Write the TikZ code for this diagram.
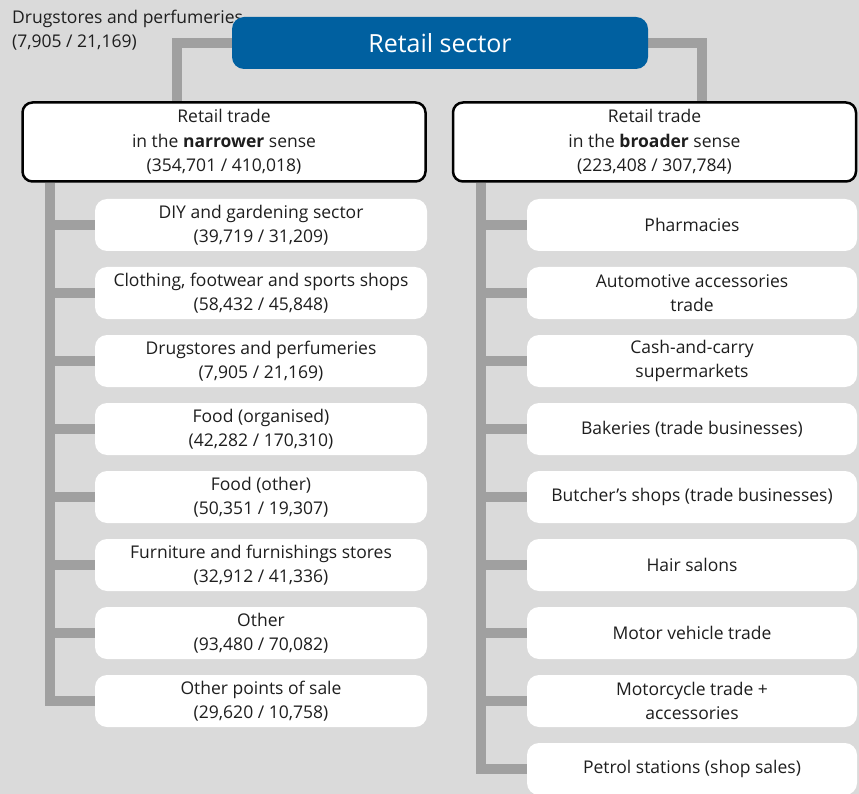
\documentclass[tikz,border=0pt]{standalone}
\usepackage{fontspec}
\setmainfont{Open Sans}
\usetikzlibrary{backgrounds}
\definecolor{backgray}{RGB}{218,218,218}
\definecolor{linkgray}{RGB}{160,160,160}
\definecolor{sectorblue}{RGB}{0,96,160}
\definecolor{inkgray}{RGB}{30,30,30}
\tikzset{
 link/.style={draw=linkgray, line width=10.5pt},
}
\begin{document}
\begin{tikzpicture}[x=1pt,y=-1pt, font=\fontsize{17.5}{24.5}\selectfont, text=inkgray]
 \useasboundingbox (0,0) rectangle (859,794);
 \node (label) [anchor=west, align=left, inner sep=0pt] at (12,30) {Drugstores and perfumeries\\(7,905 / 21,169)};
 \node (sector) [fill=sectorblue, rounded corners=12pt, minimum width=416pt, minimum height=52pt,
   text=white, font=\fontsize{25}{28}\selectfont] at (440,43) {Retail sector};
 \begin{scope}[every node/.style={draw=black, line width=2.5pt, fill=white, rounded corners=10pt,
   minimum width=403pt, minimum height=79pt, align=center, inner sep=0pt}]
  \node (narrow) at (224,142) {Retail trade\\in the \textbf{narrower} sense\\(354,701 / 410,018)};
  \node (broader) at (654.5,142) {Retail trade\\in the \textbf{broader} sense\\(223,408 / 307,784)};
 \end{scope}
 \begin{scope}[every node/.style={fill=white, rounded corners=12pt, minimum width=332pt,
   minimum height=52pt, align=center, inner sep=0pt}]
  \node (n1) at (261,225) {DIY and gardening sector\\(39,719 / 31,209)};
  \node (n2) at (261,293) {Clothing, footwear and sports shops\\(58,432 / 45,848)};
  \node (n3) at (261,361) {Drugstores and perfumeries\\(7,905 / 21,169)};
  \node (n4) at (261,429) {Food (organised)\\(42,282 / 170,310)};
  \node (n5) at (261,497) {Food (other)\\(50,351 / 19,307)};
  \node (n6) at (261,565) {Furniture and furnishings stores\\(32,912 / 41,336)};
  \node (n7) at (261,633) {Other\\(93,480 / 70,082)};
  \node (n8) at (261,701) {Other points of sale\\(29,620 / 10,758)};
 \end{scope}
 \begin{scope}[every node/.style={fill=white, rounded corners=12pt, minimum width=330pt,
   minimum height=52pt, align=center, inner sep=0pt}]
  \node (b1) at (692,225) {Pharmacies};
  \node (b2) at (692,293) {Automotive accessories\\trade};
  \node (b3) at (692,361) {Cash-and-carry\\supermarkets};
  \node (b4) at (692,429) {Bakeries (trade businesses)};
  \node (b5) at (692,497) {Butcher’s shops (trade businesses)};
  \node (b6) at (692,565) {Hair salons};
  \node (b7) at (692,633) {Motor vehicle trade};
  \node (b8) at (692,701) {Motorcycle trade +\\accessories};
  \node (b9) at (692,769) {Petrol stations (shop sales)};
 \end{scope}
 \coordinate (ltrunk) at ([xshift=-174pt]narrow.south);
 \coordinate (rtrunk) at ([xshift=-173.5pt]broader.south);
 \begin{scope}[on background layer]
  \fill[backgray] (0,0) rectangle (859,794);
  \draw[link] (sector.west) -| ([xshift=-47pt]narrow.north);
  \draw[link] (sector.east) -| ([xshift=47.5pt]broader.north);
  \draw[link] (ltrunk) |- (n8.west);
  \draw[link] (rtrunk) |- (b9.west);
  \path [link] (n1.west -| ltrunk) edge (n1.west);
  \path [link] (n2.west -| ltrunk) edge (n2.west);
  \path [link] (n3.west -| ltrunk) edge (n3.west);
  \path [link] (n4.west -| ltrunk) edge (n4.west);
  \path [link] (n5.west -| ltrunk) edge (n5.west);
  \path [link] (n6.west -| ltrunk) edge (n6.west);
  \path [link] (n7.west -| ltrunk) edge (n7.west);
  \path [link] (b1.west -| rtrunk) edge (b1.west);
  \path [link] (b2.west -| rtrunk) edge (b2.west);
  \path [link] (b3.west -| rtrunk) edge (b3.west);
  \path [link] (b4.west -| rtrunk) edge (b4.west);
  \path [link] (b5.west -| rtrunk) edge (b5.west);
  \path [link] (b6.west -| rtrunk) edge (b6.west);
  \path [link] (b7.west -| rtrunk) edge (b7.west);
  \path [link] (b8.west -| rtrunk) edge (b8.west);
 \end{scope}
\end{tikzpicture}
\end{document}
